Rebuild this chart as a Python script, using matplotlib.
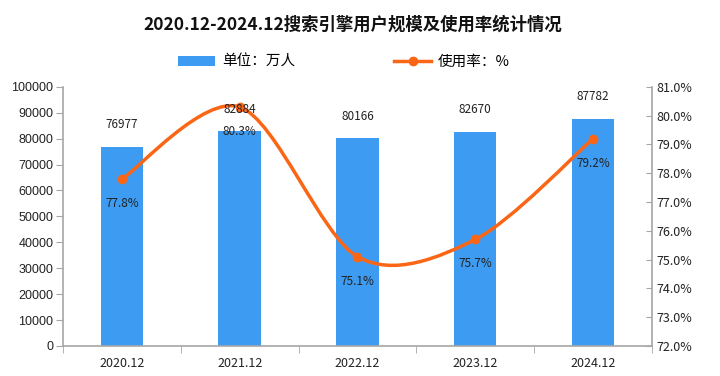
import matplotlib
matplotlib.use("Agg")
import matplotlib.pyplot as plt
from matplotlib.path import Path
from matplotlib.patches import PathPatch, Patch
from matplotlib.lines import Line2D
import numpy as np

plt.rcParams['font.family'] = ['Noto Sans CJK SC', 'DejaVu Sans']

categories = ["2020.12", "2021.12", "2022.12", "2023.12", "2024.12"]
users = [76977, 82884, 80166, 82670, 87782]
rate = [77.8, 80.3, 75.1, 75.7, 79.2]
left_ticks = [0, 10000, 20000, 30000, 40000, 50000, 60000, 70000, 80000, 90000, 100000]
right_ticks = [72.0, 73.0, 74.0, 75.0, 76.0, 77.0, 78.0, 79.0, 80.0, 81.0]

bar_color = "#3d9bf1"
line_color = "#fa6616"
axis_color = "#a6a6a6"

fig = plt.figure(figsize=(7.2, 3.76), dpi=100)
ax = fig.add_axes([0.0875, 0.080, 0.818, 0.689])
x = np.arange(len(categories))
ax.bar(x, users, width=0.36, color=bar_color, zorder=2)
ax.set_xlim(-0.5, len(categories) - 0.5)
ax.set_ylim(0, 100000)
ax.set_yticks(left_ticks)
ax.set_yticklabels([str(v) for v in left_ticks], fontsize=9, color="#222222", family=['Liberation Sans'])
ax.set_xticks(x)
ax.set_xticklabels(categories, fontsize=9, color="#222222")
ax.set_xticks(np.arange(len(categories) + 1) - 0.5, minor=True)
ax.tick_params(axis='x', which='major', length=0, pad=8)
ax.tick_params(axis='x', which='minor', length=5, color=axis_color, direction='out')
ax.tick_params(axis='y', length=5, color=axis_color, direction='out', pad=2)
for s in ['top', 'right']:
    ax.spines[s].set_visible(False)
for s in ['left', 'bottom']:
    ax.spines[s].set_color(axis_color)
    ax.spines[s].set_linewidth(1.2)

ax2 = ax.twinx()
ax2.set_ylim(72, 81)
ax2.set_yticks(right_ticks)
ax2.set_yticklabels([f"{v:.1f}%" for v in right_ticks], fontsize=9, color="#222222")
ax2.tick_params(axis='y', length=4, color=axis_color, direction='in', pad=3)
for s in ['top', 'left', 'bottom']:
    ax2.spines[s].set_visible(False)
ax2.spines['right'].set_color(axis_color)
ax2.spines['right'].set_linewidth(1.2)

# smooth (Bezier) line through the points
pts = list(zip(x.astype(float), rate))
verts = [pts[0]]
codes = [Path.MOVETO]
n = len(pts)
k = 1 / 6.5
for i in range(n - 1):
    p0 = np.array(pts[i - 1] if i > 0 else pts[i])
    p1 = np.array(pts[i])
    p2 = np.array(pts[i + 1])
    p3 = np.array(pts[i + 2] if i + 2 < n else pts[i + 1])
    c1 = p1 + (p2 - p0) * k
    c2 = p2 - (p3 - p1) * k
    verts += [tuple(c1), tuple(c2), tuple(p2)]
    codes += [Path.CURVE4] * 3
ax2.add_patch(PathPatch(Path(verts, codes), facecolor='none', edgecolor=line_color, lw=2.5, zorder=3))
ax2.plot(x, rate, 'o', color=line_color, markersize=6, zorder=4)
for xi, v in zip(x, rate):
    ax2.annotate(f"{v:.1f}%", (xi, v), xytext=(0, -13), textcoords='offset points',
                 ha='center', va='top', fontsize=8.5, color="#222222", zorder=6)
for xi, v in zip(x, users):
    ax2.annotate(str(v), (xi, 72 + v / 100000 * 9), xytext=(0, 11), textcoords='offset points',
                 ha='center', va='bottom', fontsize=8.5, color="#222222", zorder=6)

fig.text(0.49, 0.935, "2020.12-2024.12搜索引擎用户规模及使用率统计情况", ha='center', va='center',
         fontsize=12.5, fontweight='bold', color="#111111")

handles = [Patch(facecolor=bar_color, edgecolor='none'),
           Line2D([0], [0], color=line_color, lw=2.5, marker='o', markersize=6)]
fig.legend(handles, ["单位：万人", "使用率：%"], loc='center', bbox_to_anchor=(0.478, 0.835), ncol=2,
           frameon=False, fontsize=10.5, columnspacing=6.8, handlelength=2.5, handletextpad=0.5)

fig.savefig("out.png", dpi=100)
